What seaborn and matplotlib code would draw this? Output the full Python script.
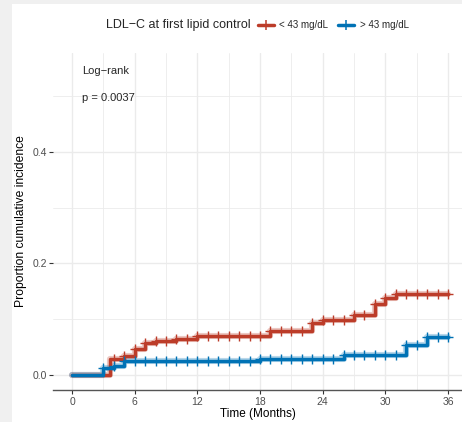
import numpy as np
import pandas as pd
import matplotlib
matplotlib.use("Agg")
import matplotlib.pyplot as plt
from matplotlib.lines import Line2D
from matplotlib.patches import Rectangle
import seaborn as sns

# Cumulative incidence step functions (time in months, proportion)
low_label = "< 43 mg/dL"
high_label = "> 43 mg/dL"

low_times = [0, 3.6, 5, 6, 7, 8, 10, 12, 19, 23, 24, 27, 29, 30, 31, 36]
low_values = [0, 0.028, 0.034, 0.047, 0.056, 0.061, 0.064, 0.070, 0.078, 0.092,
              0.099, 0.108, 0.126, 0.137, 0.145, 0.145]

high_times = [0, 3, 4, 5, 18, 26, 32, 34, 36]
high_values = [0, 0.012, 0.016, 0.024, 0.029, 0.036, 0.054, 0.068, 0.068]

# Censoring times (months)
low_censor = list(range(4, 37))
high_censor = list(range(3, 37))

x_ticks = [0, 6, 12, 18, 24, 30, 36]
y_ticks = [0.0, 0.2, 0.4]

colors = {low_label: "#BC3C29", high_label: "#0072B5"}


def level_at(times, values, t):
    idx = np.searchsorted(times, t, side="right") - 1
    return values[idx]


curves = pd.concat([
    pd.DataFrame({"time": low_times, "value": low_values, "group": low_label}),
    pd.DataFrame({"time": high_times, "value": high_values, "group": high_label}),
], ignore_index=True)

censor = pd.concat([
    pd.DataFrame({"time": low_censor,
                  "value": [level_at(low_times, low_values, t) for t in low_censor],
                  "group": low_label}),
    pd.DataFrame({"time": high_censor,
                  "value": [level_at(high_times, high_values, t) for t in high_censor],
                  "group": high_label}),
], ignore_index=True)

sns.set_theme(style="whitegrid")
plt.rcParams["font.family"] = ["Liberation Sans", "DejaVu Sans"]

fig = plt.figure(figsize=(4.62, 4.22), dpi=100)
fig.patch.set_facecolor("#f0f0f0")
panel = Rectangle((12 / 462, 0), 1 - 12 / 462, 1 - 4 / 422,
                  transform=fig.transFigure, facecolor="white",
                  edgecolor="none", zorder=-10)
fig.patches.append(panel)

ax = fig.add_axes([53 / 462, 32 / 422, 409 / 462, 337 / 422])
ax.set_facecolor("white")
ax.set_zorder(1)

for grp in [low_label, high_label]:
    sub = curves[curves["group"] == grp]
    # soft halo under each step line
    ax.step(sub["time"], sub["value"], where="post", color=colors[grp],
            lw=4.4, alpha=0.28, zorder=2)
    sns.lineplot(data=sub, x="time", y="value", color=colors[grp],
                 drawstyle="steps-post", estimator=None, sort=False,
                 lw=2.5, ax=ax, legend=False, zorder=3)
    cs = censor[censor["group"] == grp]
    sns.scatterplot(data=cs, x="time", y="value", marker="+", s=50,
                    color=colors[grp], linewidth=1.0, ax=ax, legend=False,
                    zorder=4)

ax.set_xlim(-1.82, 37.34)
ax.set_ylim(-0.0275, 0.5775)
ax.set_xticks(x_ticks)
ax.set_yticks(y_ticks)
ax.set_xticks(np.arange(3, 37, 6), minor=True)
ax.set_yticks([0.1, 0.3, 0.5], minor=True)
ax.set_yticklabels([f"{v:.1f}" for v in y_ticks])
ax.grid(which="major", color="#ebebeb", lw=1.0)
ax.grid(which="minor", color="#ebebeb", lw=0.6)
ax.set_axisbelow(True)

for side in ["top", "right", "left"]:
    ax.spines[side].set_visible(False)
ax.spines["bottom"].set_visible(True)
ax.spines["bottom"].set_color("#555555")
ax.spines["bottom"].set_linewidth(1.0)

ax.tick_params(axis="both", which="major", bottom=True, left=True,
               length=3, width=0.8, color="#333333", labelsize=7.5,
               labelcolor="#4d4d4d", pad=2)
ax.tick_params(axis="both", which="minor", length=0)
ax.tick_params(axis="y", pad=1)

ax.set_xlabel("Time (Months)", fontsize=8.5, color="black", labelpad=1)
ax.set_ylabel("Proportion cumulative incidence", fontsize=8.7, color="black",
              labelpad=4)

ax.text(1.0, 0.545, "Log\u2212rank", fontsize=8, ha="left", va="center")
ax.text(1.0, 0.497, "p = 0.0037", fontsize=8, ha="left", va="center")

# Legend along the top
fig.text(106 / 462, 1 - 25 / 422, "LDL\u2212C at first lipid control",
         fontsize=9, ha="left", va="center")
handles = [Line2D([0], [0], color=colors[g], lw=2.5, marker="+",
                  markersize=7, markeredgewidth=1.1) for g in [low_label, high_label]]
fig.legend(handles, [low_label, high_label], ncol=2, frameon=False,
           loc="center left", bbox_to_anchor=(258 / 462, 1 - 25 / 422),
           fontsize=7, handlelength=1.6, handletextpad=0.6, columnspacing=1.0,
           borderaxespad=0, borderpad=0)

fig.savefig("out.png", dpi=100, facecolor=fig.get_facecolor())
